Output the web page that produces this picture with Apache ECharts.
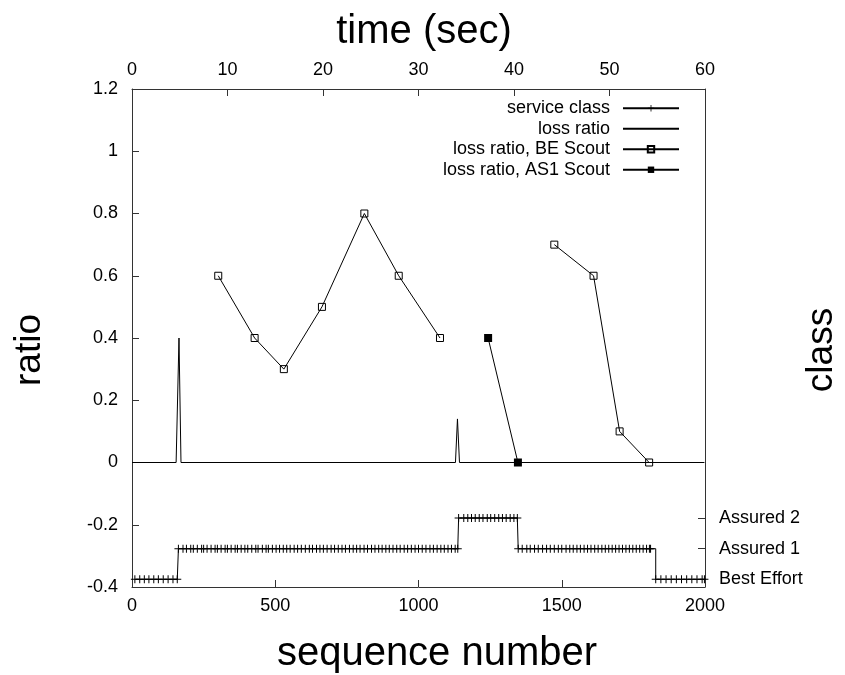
<!DOCTYPE html>
<html>
<head>
<meta charset="utf-8">
<script src="https://cdn.jsdelivr.net/npm/echarts@6/dist/echarts.min.js"></script>
<style>html,body{margin:0;padding:0;background:#fff;}#c{width:845px;height:675px;}</style>
</head>
<body>
<div id="c"></div>
<script>
// ---- data ----
var seqTicks = [0, 500, 1000, 1500, 2000];
var timeTicks = [0, 10, 20, 30, 40, 50, 60];
var classNames = ['Best Effort', 'Assured 1', 'Assured 2'];

// service class samples (sequence number, class level)
var classSeq = [
  10, 27, 43, 59, 76, 92, 109, 126, 143, 158,
  162, 178, 190, 205, 214, 228, 243, 250, 262, 276, 290, 298, 311, 325, 333, 346, 360, 368, 381, 394,
  404, 418, 432, 440, 455, 468, 476, 490, 503, 515, 528, 540, 552, 566, 578, 591, 605, 619, 630, 644,
  656, 668, 681, 695, 707, 720, 733, 745, 759, 772, 784, 796, 810, 822, 836, 848, 861, 873, 886, 898,
  911, 924, 936, 950, 962, 975, 988, 1000, 1013, 1026, 1040, 1052, 1065, 1078, 1090, 1103, 1115, 1128, 1137,
  1140, 1158, 1172, 1185, 1198, 1212, 1225, 1240, 1252, 1266, 1280, 1293, 1306, 1320, 1333, 1345,
  1348, 1362, 1378, 1390, 1405, 1418, 1433, 1447, 1460, 1474, 1488, 1500, 1515, 1528, 1540, 1553, 1565,
  1578, 1590, 1602, 1615, 1627, 1640, 1652, 1664, 1676, 1688, 1700, 1712, 1724, 1736, 1748, 1760, 1772,
  1784, 1796, 1806,
  1810, 1828, 1846, 1864, 1882, 1900, 1918, 1936, 1954, 1972, 1990, 1998
];
var classLevel = [
  0, 0, 0, 0, 0, 0, 0, 0, 0, 0,
  1, 1, 1, 1, 1, 1, 1, 1, 1, 1, 1, 1, 1, 1, 1, 1, 1, 1, 1, 1,
  1, 1, 1, 1, 1, 1, 1, 1, 1, 1, 1, 1, 1, 1, 1, 1, 1, 1, 1, 1,
  1, 1, 1, 1, 1, 1, 1, 1, 1, 1, 1, 1, 1, 1, 1, 1, 1, 1, 1, 1,
  1, 1, 1, 1, 1, 1, 1, 1, 1, 1, 1, 1, 1, 1, 1, 1, 1, 1, 1,
  2, 2, 2, 2, 2, 2, 2, 2, 2, 2, 2, 2, 2, 2, 2, 2,
  1, 1, 1, 1, 1, 1, 1, 1, 1, 1, 1, 1, 1, 1, 1, 1, 1,
  1, 1, 1, 1, 1, 1, 1, 1, 1, 1, 1, 1, 1, 1, 1, 1, 1, 1,
  1, 1, 1,
  0, 0, 0, 0, 0, 0, 0, 0, 0, 0, 0, 0
];

// loss ratio
var lossSeq   = [0, 154, 164, 171, 1129, 1136, 1143, 1998];
var lossRatio = [0, 0, 0.4, 0, 0, 0.14, 0, 0];

// loss ratio, BE Scout (null = gap)
var beSeq   = [301, 428, 530, 663, 811, 931, 1075, null, 1474, 1611, 1702, 1805];
var beRatio = [0.6, 0.4, 0.3, 0.5, 0.8, 0.6, 0.4, null, 0.7, 0.6, 0.1, 0];

// loss ratio, AS1 Scout
var as1Seq   = [1243, 1347];
var as1Ratio = [0.4, 0];

function zip(a, b) {
  return a.map(function (v, i) { return v === null ? [null, null] : [v, b[i]]; });
}

var FONT = 'Liberation Sans, Arial, Helvetica, sans-serif';
var AX = '#333';
var PLUS = 'path://M3.5,0H4.5V3.5H8V4.5H4.5V8H3.5V4.5H0V3.5H3.5Z';
function plain(v) { return String(v); }

var chart = echarts.init(document.getElementById('c'), null, {renderer: 'canvas'});
chart.setOption({
  animation: false,
  backgroundColor: '#fff',
  textStyle: {fontFamily: FONT, color: '#000'},
  grid: {left: 132, right: 140, top: 89, bottom: 88, containLabel: false, outerBoundsMode: 'none'},
  legend: {
    orient: 'vertical', right: 165, top: 99, align: 'right', padding: 0,
    itemWidth: 56, itemHeight: 8, itemGap: 2,
    textStyle: {fontFamily: FONT, fontSize: 18, lineHeight: 18.5, color: '#000', padding: [0, 8, 0, 0]},
    data: ['service class', {name: 'loss ratio', itemStyle: {opacity: 0}}, 'loss ratio, BE Scout', 'loss ratio, AS1 Scout']
  },
  xAxis: [{
    type: 'value', position: 'bottom', min: 0, max: 2000, interval: 500,
    name: 'sequence number', nameLocation: 'middle', nameGap: 47, nameMoveOverlap: false,
    nameTextStyle: {fontFamily: FONT, fontSize: 40, color: '#000', padding: [0, 0, 0, 37]},
    axisLine: {show: true, onZero: false, lineStyle: {color: AX, width: 1}},
    axisTick: {show: true, inside: true, length: 7, lineStyle: {color: AX}},
    axisLabel: {fontFamily: FONT, fontSize: 18, color: '#000', margin: 10, formatter: plain},
    splitLine: {show: false}
  }, {
    type: 'value', position: 'top', min: 0, max: 60, interval: 10,
    name: 'time (sec)', nameLocation: 'middle', nameGap: 37, nameMoveOverlap: false,
    nameTextStyle: {fontFamily: FONT, fontSize: 40, color: '#000', padding: [0, 0, 0, 11]},
    axisLine: {show: true, onZero: false, lineStyle: {color: AX, width: 1}},
    axisTick: {show: true, inside: true, length: 7, lineStyle: {color: AX}},
    axisLabel: {fontFamily: FONT, fontSize: 18, color: '#000', margin: 10, formatter: plain},
    splitLine: {show: false}
  }],
  yAxis: [{
    type: 'value', position: 'left', min: -0.4, max: 1.2, interval: 0.2,
    name: 'ratio', nameLocation: 'middle', nameGap: 84, nameRotate: 90, nameMoveOverlap: false,
    nameTextStyle: {fontFamily: FONT, fontSize: 37, color: '#000', padding: [0, 24, 0, 0]},
    axisLine: {show: true, onZero: false, lineStyle: {color: AX, width: 1}},
    axisTick: {show: true, inside: true, length: 7, lineStyle: {color: AX}},
    axisLabel: {fontFamily: FONT, fontSize: 18, color: '#000', margin: 14, formatter: plain},
    splitLine: {show: false}
  }, {
    type: 'value', position: 'right', min: -0.25, max: 16,
    name: 'class', nameLocation: 'middle', nameGap: 98, nameRotate: 90, nameMoveOverlap: false,
    nameTextStyle: {fontFamily: FONT, fontSize: 37, color: '#000', padding: [0, 24, 0, 0]},
    axisLine: {show: true, onZero: false, lineStyle: {color: AX, width: 1}},
    axisTick: {show: true, inside: true, length: 7, lineStyle: {color: AX}, customValues: [0, 1, 2]},
    axisLabel: {fontFamily: FONT, fontSize: 18, color: '#000', margin: 14,
      customValues: [0, 1, 2],
      formatter: function (v) { return classNames[Math.round(v)] || ''; }},
    splitLine: {show: false}
  }],
  series: [{
    name: 'service class', type: 'line', xAxisIndex: 0, yAxisIndex: 1,
    step: 'end', data: zip(classSeq, classLevel),
    symbol: PLUS, symbolSize: 8, showAllSymbol: true,
    lineStyle: {color: '#000', width: 1}, itemStyle: {color: '#000'},
    emphasis: {disabled: true}, z: 2
  }, {
    name: 'loss ratio', type: 'line', xAxisIndex: 0, yAxisIndex: 0,
    data: zip(lossSeq, lossRatio), symbol: 'none', showSymbol: false,
    lineStyle: {color: '#000', width: 1}, itemStyle: {color: '#000'},
    emphasis: {disabled: true}, z: 3
  }, {
    name: 'loss ratio, BE Scout', type: 'line', xAxisIndex: 0, yAxisIndex: 0,
    data: zip(beSeq, beRatio), connectNulls: false,
    symbol: 'rect', symbolSize: 7, showAllSymbol: true,
    lineStyle: {color: '#000', width: 1},
    itemStyle: {color: 'rgba(255,255,255,0)', borderColor: '#000', borderWidth: 1},
    emphasis: {disabled: true}, z: 4
  }, {
    name: 'loss ratio, AS1 Scout', type: 'line', xAxisIndex: 0, yAxisIndex: 0,
    data: zip(as1Seq, as1Ratio),
    symbol: 'rect', symbolSize: 8, showAllSymbol: true,
    lineStyle: {color: '#000', width: 1},
    itemStyle: {color: '#000'},
    emphasis: {disabled: true}, z: 5
  }]
});
</script>
</body>
</html>
